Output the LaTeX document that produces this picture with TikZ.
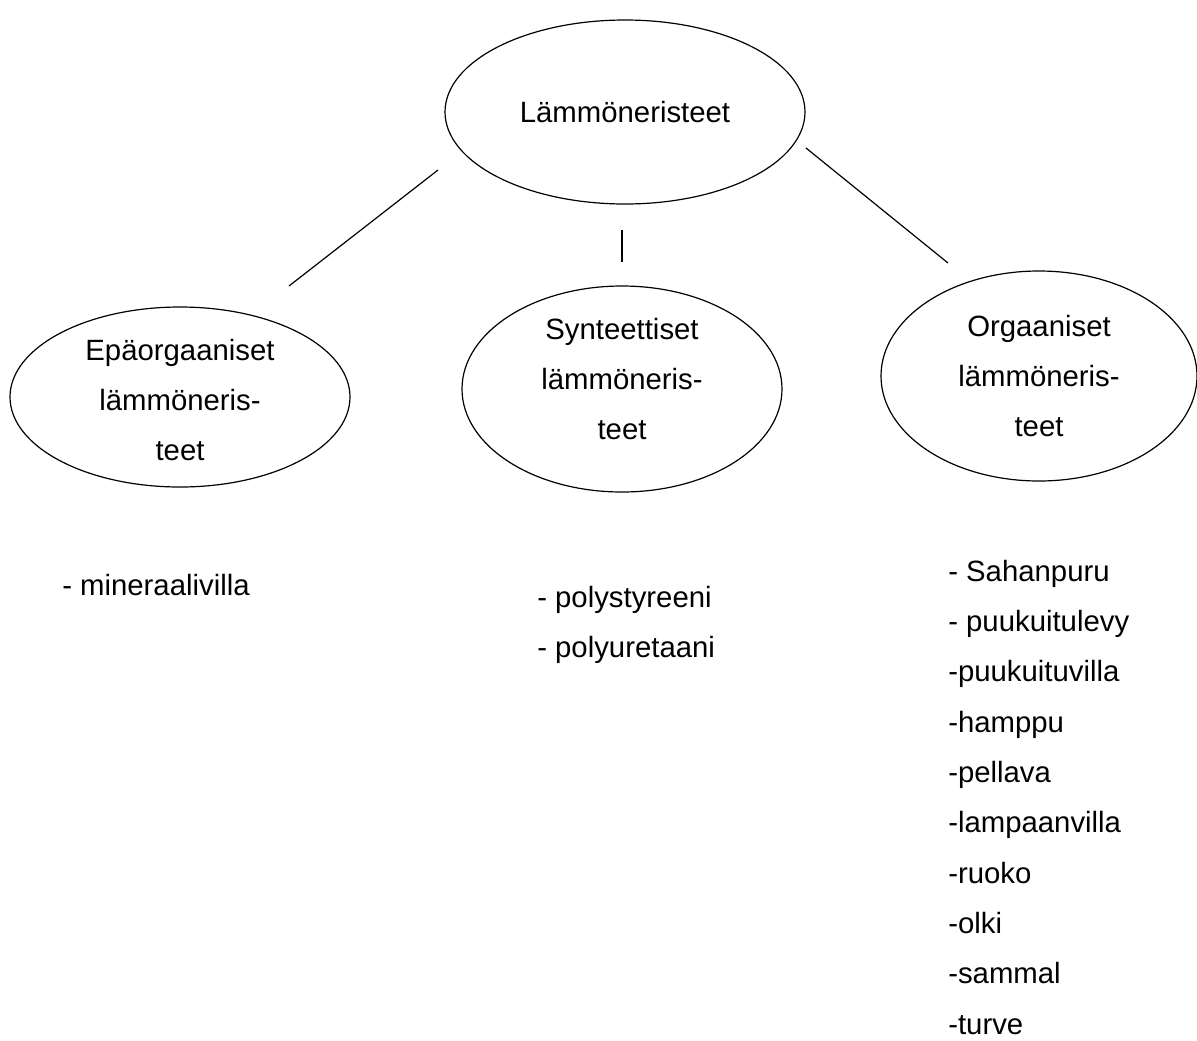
\documentclass[tikz,border=0pt]{standalone}
\usepackage{fontspec}
\setmainfont{Liberation Sans}
\usetikzlibrary{shapes.geometric}
\tikzset{
	oval/.style={ellipse, draw=black, line width=0.9pt, inner sep=0pt, align=center, font=\fontsize{22}{37.5}\selectfont},
	ovaltext/.style={inner sep=0pt, align=center, font=\fontsize{22}{37.5}\selectfont},
	item/.style={anchor=west, inner sep=0pt, text height=16pt, text depth=5pt, font=\fontsize{22}{26}\selectfont},
	link/.style={draw=black, line width=0.9pt},
}
\begin{document}
\begin{tikzpicture}[x=0.75pt, y=-0.75pt]
	\useasboundingbox (0,0) rectangle (1197,1040);
	% ovals
	\node[oval, minimum width=270pt, minimum height=138pt] (top) at (625,112) {L\"amm\"oneristeet};
	\node[oval, minimum width=255pt, minimum height=135pt] (inorg) at (180,397) {};
	\node[ovaltext] (inorgtxt) at (180,400) {Ep\"aorgaaniset\\l\"amm\"oneris-\\teet};
	\node[oval, minimum width=240pt, minimum height=154.5pt] (synt) at (622,389) {};
	\node[ovaltext] (synttxt) at (622,379) {Synteettiset\\l\"amm\"oneris-\\teet};
	\node[oval, minimum width=237pt, minimum height=157.5pt] (org) at (1039,376) {Orgaaniset\\l\"amm\"oneris-\\teet};
	% connector ends
	\coordinate (tl) at (438,170);
	\coordinate (il) at (289,286);
	\coordinate (tm) at (622,230);
	\coordinate (sm) at (622,262);
	\coordinate (tr) at (806,148);
	\coordinate (or) at (948,263);
	\draw[link] (tl) -- (il);
	\draw[link] (tm) -- (sm);
	\draw[link] (tr) -- (or);
	% lists
	\node[item] (min) at (62,588) {- mineraalivilla};
	\node[item] (poly1) at (537,600) {- polystyreeni};
	\node[item] (poly2) at (537,650) {- polyuretaani};
	\foreach \t [count=\i] in {- Sahanpuru, - puukuitulevy, -puukuituvilla, -hamppu, -pellava, -lampaanvilla, -ruoko, -olki, -sammal, -turve}
		\node[item] (o\i) at (948,{574+50.3*(\i-1)}) {\t};
\end{tikzpicture}
\end{document}
